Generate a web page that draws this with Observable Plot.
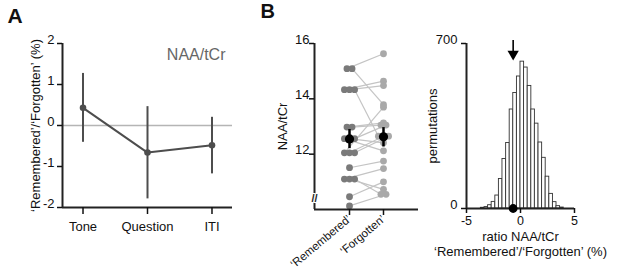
<!DOCTYPE html>
<html><head><meta charset="utf-8">
<script src="https://cdn.jsdelivr.net/npm/d3@7"></script>
<script src="https://cdn.jsdelivr.net/npm/@observablehq/plot@0.6"></script>
<style>
body{margin:0;background:#fff;}
#wrap{position:relative;width:617px;height:274px;overflow:hidden;font-family:"Liberation Sans",Arial,sans-serif;}
#wrap > svg{position:absolute;top:0;overflow:visible;}
</style></head><body><div id="wrap"></div>
<script>
// ---- Panel A data ----
const conditions = ["Tone", "Question", "ITI"];
const ratioMean = [0.43, -0.66, -0.48];
const ratioHi = [1.27, 0.46, 0.20];
const ratioLo = [-0.41, -1.79, -1.18];
const ticksA = [-2, -1, 0, 1, 2];

// ---- Panel B data (paired subjects) ----
const groupLabels = ["‘Remembered’", "‘Forgotten’"];
const remembered = [15.09, 15.09, 14.33, 14.33, 14.33, 12.98, 12.98, 12.56, 12.56, 12.56, 12.05, 12.05, 12.05, 11.51, 11.10, 11.10, 11.10, 10.46, 10.13];
const forgotten  = [15.63, 13.79, 14.64, 14.48, 12.65, 13.13, 13.05, 12.12, 12.41, 13.05, 13.70, 12.65, 12.65, 11.75, 11.48, 10.73, 10.55, 11.00, 10.55];
const groupMean = [12.55, 12.63];
const groupHi = [12.89, 12.96];
const groupLo = [12.20, 12.26];
const ticksB = [12, 14, 16];

// ---- Panel C data (permutation histogram) ----
const binStart = [-3.67, -3.33, -3.0, -2.67, -2.33, -2.0, -1.67, -1.33, -1.0, -0.67, -0.33, 0.0, 0.33, 0.67, 1.0, 1.33, 1.67, 2.0, 2.33, 2.67, 3.0, 3.33, 3.67];
const binCount = [3, 6, 14, 28, 55, 125, 210, 278, 420, 490, 560, 623, 598, 520, 420, 360, 280, 215, 135, 62, 27, 10, 4];
const binWidth = 1 / 3;
const observedRatio = -0.68;
const ticksCx = [-5, 0, 5];
const ticksCy = [0, 700];

const font = "Liberation Sans, Arial, Helvetica, sans-serif";
const wrap = document.getElementById("wrap");
const baseStyle = {fontFamily: font, fontSize: "13px", background: "transparent", overflow: "visible", color: "#111"};
function place(svg, left) { svg.style.left = left + "px"; wrap.appendChild(svg); }

// ---------- Panel A ----------
const dataA = conditions.map((c, i) => ({i, c, m: ratioMean[i], hi: ratioHi[i], lo: ratioLo[i]}));
const xA = [-0.318, 2.318];
const plotA = Plot.plot({
  width: 245, height: 274, marginLeft: 62, marginRight: 13, marginTop: 43, marginBottom: 67,
  style: baseStyle,
  x: {domain: xA}, y: {domain: [-2, 2]},
  marks: [
    Plot.ruleY([0], {stroke: "#b5b5b5", strokeWidth: 1.5}),
    Plot.ruleX(dataA, {x: "i", y1: "lo", y2: "hi", stroke: "#4d4d4d", strokeWidth: 2}),
    Plot.line(dataA, {x: "i", y: "m", stroke: "#4d4d4d", strokeWidth: 2}),
    Plot.dot(dataA, {x: "i", y: "m", r: 3.3, fill: "#4d4d4d"}),
    Plot.ruleX([xA[0]], {y1: -2, y2: 2, stroke: "#222", strokeWidth: 2}),
    Plot.ruleY([-2], {stroke: "#222", strokeWidth: 2}),
    Plot.axisY({ticks: ticksA, tickSize: 5, tickFormat: () => "", strokeWidth: 1.5, label: null}),
    Plot.axisY({ticks: ticksA, tickSize: 0, tickPadding: 8, dy: -4, fontSize: 13, tickFormat: d => String(d), label: null}),
    Plot.axisX({ticks: [0, 1, 2], tickSize: 7, tickPadding: 7, fontSize: 13, strokeWidth: 1.5, tickFormat: i => conditions[i], label: null}),
    Plot.text(["‘Remembered’/‘Forgotten’ (%)"], {frameAnchor: "left", rotate: -90, dx: -27, textAnchor: "middle", fontSize: 13}),
    Plot.text(["NAA/tCr"], {frameAnchor: "top-right", textAnchor: "end", lineAnchor: "top", dx: -7, dy: 5, fontSize: 16, fill: "#666"}),
    Plot.text(["A"], {frameAnchor: "top-left", textAnchor: "start", lineAnchor: "top", dx: -55, dy: -35, fontSize: 21, fontWeight: "bold"})
  ]
});
place(plotA, 0);

// ---------- Panel B ----------
function spread(values, step) {
  const counts = d3.rollup(values, v => v.length, d => d);
  const seen = new Map();
  return values.map(v => {
    const k = seen.get(v) ?? 0; seen.set(v, k + 1);
    return (k - (counts.get(v) - 1) / 2) * step;
  });
}
const offR = spread(remembered, 0.15);
const offF = spread(forgotten, 0.15);
const pairs = remembered.map((r, i) => ({r, f: forgotten[i], xr: 0 + offR[i], xf: 1 + offF[i]}));
const means = groupMean.map((m, g) => ({g, m, hi: groupHi[g], lo: groupLo[g]}));
const xB = [-1.03, 2.03];
const plotB = Plot.plot({
  width: 175, height: 274, marginLeft: 69, marginRight: 2, marginTop: 43, marginBottom: 65,
  style: baseStyle,
  x: {domain: xB}, y: {domain: [10, 16]},
  marks: [
    Plot.link(pairs, {x1: "xr", y1: "r", x2: "xf", y2: "f", stroke: "#c4c4c4", strokeWidth: 1.2}),
    Plot.dot(pairs, {x: "xr", y: "r", r: 3.4, fill: "#7a7a7a"}),
    Plot.dot(pairs, {x: "xf", y: "f", r: 3.4, fill: "#a9a9a9"}),
    Plot.ruleX(means, {x: "g", y1: "lo", y2: "hi", stroke: "#000", strokeWidth: 2.5}),
    Plot.dot(means, {x: "g", y: "m", r: 4.6, fill: "#000"}),
    Plot.ruleX([xB[0]], {y1: 10, y2: 16, stroke: "#222", strokeWidth: 2}),
    Plot.ruleY([10], {stroke: "#222", strokeWidth: 2}),
    Plot.text(["//"], {frameAnchor: "bottom-left", textAnchor: "middle", dy: -8, fontSize: 11, fontWeight: "bold", fill: "#222", stroke: "white", strokeWidth: 2}),
    Plot.axisY({ticks: ticksB, tickSize: 5, tickFormat: () => "", strokeWidth: 1.5, label: null}),
    Plot.axisY({ticks: ticksB, tickSize: 0, tickPadding: 5, dy: -4, fontSize: 13, tickFormat: d => String(d), label: null}),
    Plot.axisX({ticks: [0, 1], tickSize: 6, tickPadding: 2, tickRotate: -40, fontSize: 11.5, strokeWidth: 1.5, tickFormat: i => groupLabels[i], label: null}),
    Plot.text(["NAA/tCr"], {frameAnchor: "left", rotate: -90, dx: -32, textAnchor: "middle", fontSize: 13}),
    Plot.text(["B"], {frameAnchor: "top-left", textAnchor: "start", lineAnchor: "top", dx: -54, dy: -40, fontSize: 20, fontWeight: "bold"})
  ]
});
place(plotB, 245);

// ---------- Panel C ----------
const bins = binStart.map((s, i) => ({x1: s, x2: s + binWidth, n: binCount[i]}));
const plotC = Plot.plot({
  width: 197, height: 274, marginLeft: 46, marginRight: 43, marginTop: 43, marginBottom: 66,
  style: baseStyle,
  x: {domain: [-5, 5]}, y: {domain: [0, 700]},
  marks: [
    Plot.rectY(bins, {x1: "x1", x2: "x2", y: "n", fill: "white", stroke: "#333", strokeWidth: 0.9}),
    Plot.ruleX([-5], {y1: 0, y2: 700, stroke: "#222", strokeWidth: 2}),
    Plot.ruleY([0], {stroke: "#222", strokeWidth: 2}),
    Plot.ruleX([observedRatio], {insetTop: -3, insetBottom: 156, stroke: "#000", strokeWidth: 1.6}),
    Plot.dot([observedRatio], {x: d => d, frameAnchor: "top", dy: 10.5, symbol: "triangle", rotate: 180, r: 4.2, fill: "#000"}),
    Plot.dot([observedRatio], {x: d => d, y: 0, r: 4.4, fill: "#000"}),
    Plot.axisY({ticks: ticksCy, tickSize: 5, tickFormat: () => "", strokeWidth: 1.5, label: null}),
    Plot.axisY({ticks: ticksCy, tickSize: 0, tickPadding: 9, dy: -4, fontSize: 13, tickFormat: d => String(d), label: null}),
    Plot.axisX({ticks: ticksCx, tickSize: 5, tickPadding: 3, fontSize: 12.5, strokeWidth: 1.5, tickFormat: d => String(d), label: null}),
    Plot.text(["permutations"], {frameAnchor: "left", rotate: -90, dx: -34, textAnchor: "middle", fontSize: 13}),
    Plot.text(["ratio NAA/tCr\n‘Remembered’/‘Forgotten’ (%)"], {frameAnchor: "bottom", textAnchor: "middle", lineAnchor: "top", dy: 23, fontSize: 13, lineHeight: 1.08})
  ]
});
place(plotC, 420);
</script></body></html>
